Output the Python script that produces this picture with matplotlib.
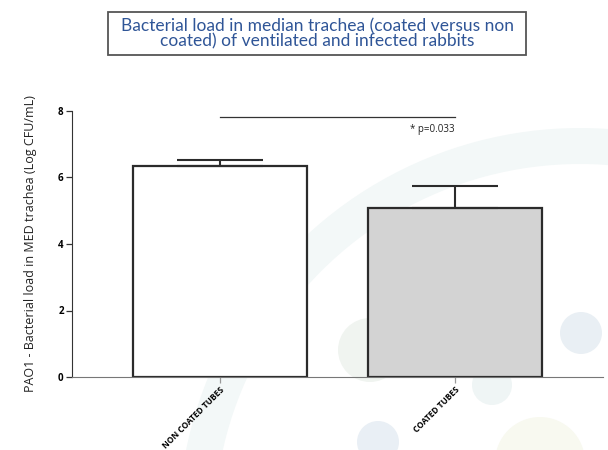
import matplotlib
matplotlib.use("Agg")
import matplotlib.pyplot as plt
from matplotlib.patches import Circle, Wedge, Rectangle

plt.rcParams.update({"font.family": ["Open Sans", "DejaVu Sans"]})

groups = ["NON COATED TUBES", "COATED TUBES"]
means = [6.35, 5.08]
errs = [0.18, 0.66]
colors = ["white", "#d3d3d3"]
p_text = "* p=0.033"
sig_y = 7.82

W, H = 608, 450
fig = plt.figure(figsize=(6.08, 4.5), dpi=100)

# faint slide decoration, pixel coords with y from top
deco = fig.add_axes([0, 0, 1, 1], zorder=0)
deco.set_xlim(0, W); deco.set_ylim(H, 0); deco.axis("off")
deco.add_patch(Wedge((580, 530), 402, 165, 285, width=36, color="#f3f8f8", lw=0))
for (cx, cy, r, c) in [(370, 350, 32, "#f0f4f0"), (378, 442, 21, "#e9eff5"),
                       (492, 385, 20, "#eff5f5"), (581, 333, 21, "#e9eff4"),
                       (540, 462, 45, "#f8f9f0")]:
    deco.add_patch(Circle((cx, cy), r, color=c, lw=0))
deco.add_patch(Rectangle((108, 12), 418, 43, fc="white", ec="#555555", lw=1.3))

ax = fig.add_axes([72 / W, 1 - 377 / H, (603 - 72) / W, (377 - 111) / H], zorder=1)
ax.patch.set_alpha(0)
x = list(range(len(groups)))
ax.bar(x, means, width=0.74, color=colors, edgecolor="#2b2b2b", linewidth=1.6, zorder=2)
ax.errorbar(x, means, yerr=[[0] * len(errs), errs], fmt="none", ecolor="#2b2b2b",
            elinewidth=1.5, capsize=31, capthick=1.5, zorder=3)

ax.plot([0, 1], [sig_y, sig_y], color="#333333", lw=0.9)
ax.text(1, sig_y - 0.22, p_text, ha="right", va="top", fontsize=7, color="#222222")

ax.set_xlim(-0.63, 1.63)
ax.set_ylim(0, 8)
ax.set_yticks([0, 2, 4, 6, 8])
ax.set_yticklabels(["0", "2", "4", "6", "8"], fontsize=7, fontweight="bold")
ax.set_xticks(x)
ax.set_xticklabels(groups, rotation=45, ha="right", rotation_mode="anchor",
                   fontsize=6, fontweight="bold")
for s in ["top", "right"]:
    ax.spines[s].set_visible(False)
ax.spines["left"].set_color("#333333")
ax.spines["bottom"].set_color("#777777")
ax.tick_params(axis="y", length=4, width=0.9, color="#333333", pad=2)
ax.tick_params(axis="x", length=4, width=0.9, color="#999999", pad=2)
ax.set_ylabel("PAO1 - Bacterial load in MED trachea (Log CFU/mL)", fontsize=9,
              color="#222222", labelpad=15)

fig.text(317 / W, 1 - 33.5 / H,
         "Bacterial load in median trachea (coated versus non\ncoated) of ventilated and infected rabbits",
         ha="center", va="center", fontsize=12.5, color="#2f5597", linespacing=0.9,
         family=["Lato", "DejaVu Sans"], zorder=3)

fig.savefig("out.png", dpi=100)
